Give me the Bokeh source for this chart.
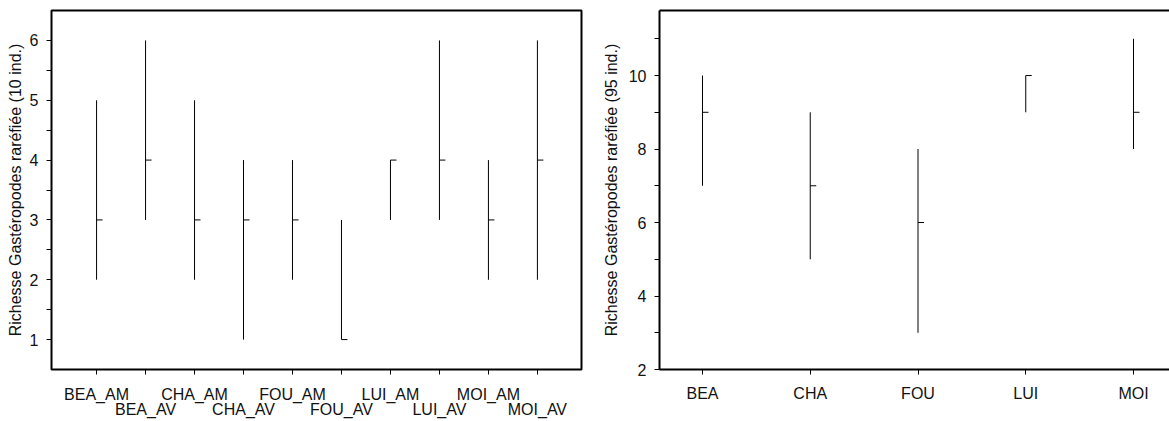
from bokeh.plotting import figure
from bokeh.models import FixedTicker, LinearAxis, Range1d
from bokeh.layouts import row
from bokeh.embed import file_html
from bokeh.resources import INLINE

# ---------------- data ----------------
left_sites = ["BEA_AM", "BEA_AV", "CHA_AM", "CHA_AV", "FOU_AM",
              "FOU_AV", "LUI_AM", "LUI_AV", "MOI_AM", "MOI_AV"]
left_min = [2, 3, 2, 1, 2, 1, 3, 3, 2, 2]
left_med = [3, 4, 3, 3, 3, 1, 4, 4, 3, 4]
left_max = [5, 6, 5, 4, 4, 3, 4, 6, 4, 6]
left_yticks = [1, 1.5, 2, 2.5, 3, 3.5, 4, 4.5, 5, 5.5, 6]
left_ylabels = ["1", "", "2", "", "3", "", "4", "", "5", "", "6"]
left_ytitle = "Richesse Gastéropodes raréfiée (10 ind.)"

right_sites = ["BEA", "CHA", "FOU", "LUI", "MOI"]
right_min = [7, 5, 3, 9, 8]
right_med = [9, 7, 6, 10, 9]
right_max = [10, 9, 8, 10, 11]
right_yticks = [2, 3, 4, 5, 6, 7, 8, 9, 10, 11]
right_ylabels = ["2", "", "4", "", "6", "", "8", "", "10", ""]
right_ytitle = "Richesse Gastéropodes raréfiée (95 ind.)"

FONT = "Liberation Sans"
FS = "16px"
INK = "#111111"


def style_axis(ax, tick_out=5, standoff=8):
    ax.major_label_text_font = FONT
    ax.major_label_text_font_size = FS
    ax.major_label_text_color = INK
    ax.major_tick_in = 0
    ax.major_tick_out = tick_out
    ax.minor_tick_in = 0
    ax.minor_tick_out = 0
    ax.major_tick_line_color = "black"
    ax.major_tick_line_width = 1
    ax.major_label_standoff = standoff


def make_panel(sites, lo, med, hi, yticks, ylabels, ytitle, x_range, y_range,
               width, border_left, border_right, label_standoff, x_standoff,
               two_rows, outline):
    pos = list(range(1, len(sites) + 1))
    p = figure(width=width, height=421, output_backend="svg", toolbar_location=None,
               x_range=Range1d(*x_range), y_range=Range1d(*y_range),
               min_border_left=border_left, min_border_right=border_right,
               min_border_top=10, min_border_bottom=52)
    p.grid.visible = False
    p.background_fill_color = "white"
    p.border_fill_color = "white"

    # y axis
    ya = p.yaxis[0]
    ya.ticker = FixedTicker(ticks=yticks)
    ya.major_label_overrides = {t: l for t, l in zip(yticks, ylabels)}
    style_axis(ya, 5, 8)
    ya.axis_label = ytitle
    ya.axis_label_text_font = FONT
    ya.axis_label_text_font_size = FS
    ya.axis_label_text_font_style = "normal"
    ya.axis_label_text_color = INK
    ya.axis_label_standoff = label_standoff

    # x axis
    xa = p.xaxis[0]
    xa.ticker = FixedTicker(ticks=pos)
    style_axis(xa, 5, x_standoff)
    if two_rows:
        xa.major_label_overrides = {x: (s if i % 2 == 0 else "") for i, (x, s) in enumerate(zip(pos, sites))}
        even_pos = [x for i, x in enumerate(pos) if i % 2 == 1]
        xb = LinearAxis(ticker=FixedTicker(ticks=even_pos))
        xb.major_label_overrides = {x: s for i, (x, s) in enumerate(zip(pos, sites)) if i % 2 == 1}
        style_axis(xb, 0, -5)
        xb.axis_line_color = None
        xb.major_tick_line_color = None
        p.add_layout(xb, "below")
    else:
        xa.major_label_overrides = {x: s for x, s in zip(pos, sites)}

    if outline:
        p.outline_line_color = "black"
        p.outline_line_width = 2
        p.outline_line_alpha = 1
        ya.axis_line_color = None
        xa.axis_line_color = None
    else:
        p.outline_line_color = None
        ya.axis_line_color = "black"
        ya.axis_line_width = 2
        xa.axis_line_color = "black"
        xa.axis_line_width = 2
        top = LinearAxis(ticker=FixedTicker(ticks=[]))
        top.major_tick_out = 0
        top.major_tick_in = 0
        top.minor_tick_out = 0
        top.minor_tick_in = 0
        top.major_label_standoff = 0
        top.major_label_text_font_size = "0px"
        top.axis_line_color = "black"
        top.axis_line_width = 2
        p.add_layout(top, "above")

    # range lines and median marks
    p.segment(x0=pos, y0=lo, x1=pos, y1=hi, line_color="black", line_width=1)
    p.ray(x=pos, y=med, length=6, angle=0, length_units="screen",
          line_color="black", line_width=1)
    return p


p1 = make_panel(left_sites, left_min, left_med, left_max, left_yticks, left_ylabels,
                left_ytitle, (0.08, 10.9), (0.5, 6.5), 599, 51, 18, 3, 11, True, True)
p2 = make_panel(right_sites, right_min, right_med, right_max, right_yticks, right_ylabels,
                right_ytitle, (0.601, 5.334), (2, 11.77), 570, 60, 0, 6, 10, False, False)

layout = row(p1, p2)
open("out.html", "w").write(file_html(layout, INLINE))
